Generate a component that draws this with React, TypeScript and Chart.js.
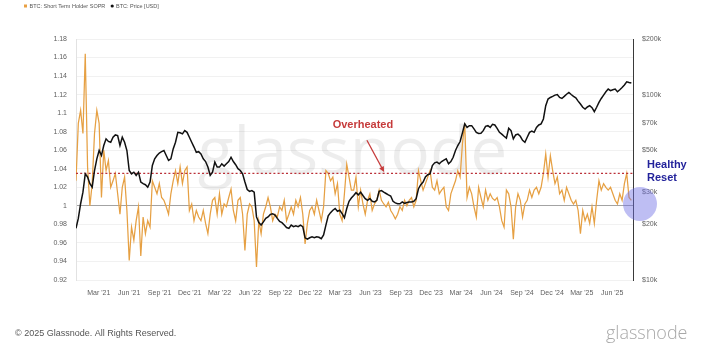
import React, { useEffect, useRef } from "react";
import { Chart, registerables } from "chart.js";

Chart.register(...registerables);

// ---------- data ----------
const START_DATE = "2020-12-22"; // first sample
const END_DATE = "2025-08-03"; // x-axis end
const STEP_DAYS = 7; // weekly samples

// BTC: Short Term Holder SOPR (weekly)
const sopr = [
  1.027, 1.089, 1.103, 1.078, 1.164, 1.042, 1.0, 1.024, 1.078, 1.103,
  1.089, 1.009, 1.06, 1.038, 1.049, 1.02, 1.027, 1.035, 1.013, 0.991,
  1.02, 1.031, 0.995, 0.941, 0.977, 0.963, 0.984, 0.999, 0.946, 0.988,
  0.97, 0.984, 0.977, 1.027, 1.02, 1.013, 1.024, 1.009, 1.006, 0.999,
  0.991, 1.013, 1.027, 1.038, 1.024, 1.042, 1.024, 1.038, 1.042, 0.995,
  1.002, 0.984, 0.995, 0.988, 0.984, 0.995, 0.981, 0.97, 0.991,
  1.006, 1.009, 0.991, 1.013, 0.991, 1.002, 0.999, 1.009, 1.018, 0.995,
  0.984, 1.006, 1.009, 0.991, 0.952, 0.991, 1.002, 0.999, 0.984, 0.934,
  0.984, 0.97, 0.991, 0.999, 1.009, 0.999, 0.984, 0.991, 0.988, 0.999,
  0.995, 1.006, 0.984, 0.991, 0.999, 0.991, 1.006, 0.999, 1.009, 0.991,
  0.959, 0.981, 0.995, 0.999, 0.991, 1.006, 0.995, 0.984, 0.999, 1.038,
  1.035, 1.027, 1.031, 1.013, 1.024, 0.991, 0.984, 1.013, 1.045, 1.031, 1.017,
  1.017, 1.031, 0.999, 1.017, 1.002, 0.991, 1.006, 1.013, 0.995, 1.002,
  1.006, 1.017, 1.006, 1.002, 0.999, 1.004, 0.995, 0.991, 0.986, 0.991,
  0.999, 0.995, 1.006, 1.0, 1.006, 1.009, 0.999, 1.006, 1.038, 1.027,
  1.017, 1.024, 1.031, 1.038, 1.02, 1.017, 1.027, 1.013, 1.017, 1.02,
  0.999, 0.995, 1.013, 1.02, 1.027, 1.038, 1.031, 1.067, 1.089, 1.009,
  1.02, 1.013, 0.999, 0.988, 1.02, 1.009, 0.999, 1.017, 1.006, 1.013,
  1.008, 1.006, 1.009, 0.999, 0.984, 0.977, 1.017, 1.013, 0.999, 0.964,
  0.999, 1.013, 1.006, 0.988, 1.002, 1.006, 1.017, 1.009, 1.017, 1.02,
  1.013, 1.02, 1.035, 1.056, 1.031, 1.054, 1.038, 1.024, 1.031, 1.013,
  1.017, 1.006, 1.02, 1.013, 1.006, 1.002, 1.006, 0.995, 0.97, 0.995,
  0.984, 0.991, 0.981, 0.999, 0.981, 1.006, 1.027, 1.017, 1.024, 1.02,
  1.017, 1.02, 1.013, 1.006, 1.002, 1.013, 1.006, 1.024, 1.035, 1.009, 1.006,
];

// BTC: Price [USD], in thousands (weekly)
const priceK = [
  19.0, 21.5, 25.8, 29.8, 37.4, 36.0, 33.1, 31.7, 39.0, 45.1,
  50.0, 47.0, 53.2, 57.8, 56.0, 55.4, 59.0, 60.7, 60.2, 53.2,
  59.0, 55.4, 50.0, 39.0, 37.4, 38.2, 36.7, 38.2, 33.8, 33.1,
  32.7, 31.7, 33.8, 41.5, 45.1, 47.0, 48.5, 49.3, 50.0, 47.0,
  44.2, 45.1, 51.0, 55.4, 62.7, 62.3, 61.5, 64.0, 62.7, 59.0,
  55.4, 52.2, 48.9, 49.3, 47.9, 45.1, 43.6, 40.7, 36.7,
  38.2, 43.3, 40.7, 40.7, 42.4, 41.2, 42.4, 43.6, 46.0, 43.6,
  41.9, 39.9, 39.0, 37.4, 33.8, 30.8, 30.1, 30.4, 29.8, 21.9,
  20.4, 19.8, 20.6, 21.5, 21.9, 22.6, 22.8, 22.4, 21.5, 20.7,
  20.4, 19.8, 19.2, 19.0, 19.8, 19.4, 19.6, 19.4, 19.8, 19.4,
  16.9, 16.6, 16.9, 17.1, 16.9, 17.1, 17.0, 16.7, 17.5, 19.8,
  22.2, 23.1, 23.8, 24.3, 23.5, 23.8, 22.8, 21.7, 24.3, 26.6, 27.7,
  28.6, 29.6, 28.8, 29.8, 28.6, 27.5, 26.9, 27.5, 26.6, 26.4,
  26.9, 30.1, 30.4, 29.8, 29.3, 28.8, 28.4, 26.6, 26.1, 25.8,
  25.8, 26.4, 25.9, 26.2, 26.4, 26.4, 26.6, 27.5, 31.1, 32.7,
  33.8, 36.0, 37.0, 37.4, 41.5, 42.9, 43.3, 42.4, 43.6, 44.4,
  45.1, 42.4, 43.6, 46.0, 50.0, 53.2, 55.9, 62.3, 69.6, 66.6,
  68.1, 68.1, 65.4, 62.7, 61.8, 62.0, 64.0, 67.5, 68.1, 66.6,
  69.3, 68.7, 65.9, 62.7, 61.3, 59.7, 58.3, 65.9, 64.0, 57.8,
  60.7, 61.3, 59.7, 56.8, 55.4, 59.0, 62.7, 63.7, 62.7, 66.6,
  68.7, 69.6, 74.0, 87.3, 94.8, 96.7, 98.0, 99.6, 100.3, 96.7,
  95.5, 98.0, 100.7, 102.9, 100.3, 98.0, 96.3, 92.4, 89.1, 85.6,
  83.8, 85.9, 87.3, 85.2, 81.0, 85.6, 90.9, 95.5, 99.6, 103.8,
  107.3, 105.2, 106.5, 107.3, 103.8, 106.5, 109.5, 112.9, 117.5, 116.4, 115.6,
];

const overheatedLevel = 1.035;

const soprTicks = [
  0.92, 0.94, 0.96, 0.98, 1, 1.02, 1.04, 1.06, 1.08, 1.1, 1.12, 1.14, 1.16, 1.18,
];
const priceTicksK = [10, 20, 30, 50, 70, 100, 200];

const xTickDates = [
  "2021-03-01", "2021-06-01", "2021-09-01", "2021-12-01",
  "2022-03-01", "2022-06-01", "2022-09-01", "2022-12-01",
  "2023-03-01", "2023-06-01", "2023-09-01", "2023-12-01",
  "2024-03-01", "2024-06-01", "2024-09-01", "2024-12-01",
  "2025-03-01", "2025-06-01",
];
const MONTHS = ["Jan", "Feb", "Mar", "Apr", "May", "Jun", "Jul", "Aug", "Sep", "Oct", "Nov", "Dec"];

// annotation anchors (day index, SOPR value)
const OVERHEATED_TEXT = { day: 868, value: 1.0845 };
const OVERHEATED_ARROW = { fromDay: 880, fromValue: 1.0707, toDay: 932, toValue: 1.0365 };
const RESET_CIRCLE_VALUE = 1.002;

// ---------- helpers ----------
const DAY_MS = 86400000;
const startMs = Date.parse(START_DATE + "T00:00:00Z");
const dayOf = (d: string) => Math.round((Date.parse(d + "T00:00:00Z") - startMs) / DAY_MS);
const xMaxDay = dayOf(END_DATE);
const xTickDays = xTickDates.map(dayOf);
const xTickLabels = xTickDates.map((d) => {
  const [y, m] = d.split("-");
  return `${MONTHS[parseInt(m, 10) - 1]} '${y.slice(2)}`;
});

const FONT = "'Liberation Sans', Arial, Helvetica, sans-serif";
const TICK_COLOR = "#5f5f5f";

const overlayPlugin = {
  id: "overlay",
  beforeDatasetsDraw(chart: any) {
    const { ctx, chartArea } = chart;
    ctx.save();
    ctx.font = `500 66px 'Open Sans', ${FONT}`;
    ctx.fillStyle = "rgba(0,0,0,0.07)";
    ctx.textAlign = "center";
    ctx.textBaseline = "alphabetic";
    ctx.fillText("glassnode", (chartArea.left + chartArea.right) / 2 - 2, 174);
    ctx.restore();
  },
  afterDraw(chart: any) {
    const { ctx, chartArea, scales } = chart;
    const xs = scales.x;
    const ys = scales.y;
    ctx.save();

    // legend
    ctx.font = `5.5px ${FONT}`;
    ctx.textBaseline = "middle";
    ctx.textAlign = "left";
    ctx.fillStyle = "#e9a042";
    ctx.fillRect(24, 4.5, 3, 3);
    ctx.fillStyle = "#555";
    ctx.fillText("BTC: Short Term Holder SOPR", 29.5, 6.2);
    ctx.fillStyle = "#111";
    ctx.beginPath();
    ctx.arc(112.2, 6, 1.6, 0, Math.PI * 2);
    ctx.fill();
    ctx.fillStyle = "#555";
    ctx.fillText("BTC: Price [USD]", 116, 6.2);

    // Overheated label + arrow
    const red = "#c63b3b";
    ctx.fillStyle = red;
    ctx.font = `bold 11px ${FONT}`;
    ctx.textAlign = "center";
    ctx.textBaseline = "alphabetic";
    ctx.fillText(
      "Overheated",
      xs.getPixelForValue(OVERHEATED_TEXT.day),
      ys.getPixelForValue(OVERHEATED_TEXT.value)
    );
    const ax0 = xs.getPixelForValue(OVERHEATED_ARROW.fromDay);
    const ay0 = ys.getPixelForValue(OVERHEATED_ARROW.fromValue);
    const ax1 = xs.getPixelForValue(OVERHEATED_ARROW.toDay);
    const ay1 = ys.getPixelForValue(OVERHEATED_ARROW.toValue);
    const ang = Math.atan2(ay1 - ay0, ax1 - ax0);
    const head = 6;
    ctx.strokeStyle = red;
    ctx.lineWidth = 1.3;
    ctx.beginPath();
    ctx.moveTo(ax0, ay0);
    ctx.lineTo(ax1 - Math.cos(ang) * head * 0.8, ay1 - Math.sin(ang) * head * 0.8);
    ctx.stroke();
    ctx.beginPath();
    ctx.moveTo(ax1, ay1);
    ctx.lineTo(ax1 - head * Math.cos(ang - 0.45), ay1 - head * Math.sin(ang - 0.45));
    ctx.lineTo(ax1 - head * Math.cos(ang + 0.45), ay1 - head * Math.sin(ang + 0.45));
    ctx.closePath();
    ctx.fill();

    // Healthy Reset circle + label
    const cy = ys.getPixelForValue(RESET_CIRCLE_VALUE);
    ctx.fillStyle = "rgba(110,110,228,0.45)";
    ctx.beginPath();
    ctx.arc(chartArea.right + 7, cy, 17, 0, Math.PI * 2);
    ctx.fill();

    ctx.fillStyle = "#23239b";
    ctx.font = `bold 11px ${FONT}`;
    ctx.textAlign = "left";
    ctx.fillText("Healthy", chartArea.right + 14, cy - 36);
    ctx.fillText("Reset", chartArea.right + 14, cy - 23);

    // footer
    ctx.fillStyle = "#555";
    ctx.font = `9px ${FONT}`;
    ctx.textBaseline = "middle";
    ctx.fillText("\u00a9 2025 Glassnode. All Rights Reserved.", 15, 334);
    ctx.fillStyle = "#a8a8a8";
    ctx.font = `300 18px 'Open Sans', ${FONT}`;
    ctx.textBaseline = "alphabetic";
    ctx.fillText("glassnode", 606, 339);

    ctx.restore();
  },
};

export default function App() {
  const canvasRef = useRef<HTMLCanvasElement | null>(null);

  useEffect(() => {
    const canvas = canvasRef.current;
    if (!canvas) return;

    const soprPts = sopr.map((v, i) => ({ x: i * STEP_DAYS, y: v }));
    const pricePts = priceK.map((v, i) => ({ x: i * STEP_DAYS, y: v * 1000 }));
    const ohPts = [
      { x: 0, y: overheatedLevel },
      { x: xMaxDay, y: overheatedLevel },
    ];

    const chart = new Chart(canvas, {
      type: "line",
      data: {
        datasets: [
          {
            label: "BTC: Price [USD]",
            data: pricePts,
            yAxisID: "yR",
            borderColor: "#111111",
            borderWidth: 1.5,
            pointRadius: 0,
            tension: 0,
            order: 0,
          },
          {
            label: "Overheated",
            data: ohPts,
            yAxisID: "y",
            borderColor: "#bb3038",
            borderWidth: 1.3,
            borderDash: [2, 2.2],
            pointRadius: 0,
            order: 1,
          },
          {
            label: "BTC: Short Term Holder SOPR",
            data: soprPts,
            yAxisID: "y",
            borderColor: "#e6a043",
            borderWidth: 1.25,
            pointRadius: 0,
            tension: 0,
            order: 2,
          },
        ],
      },
      options: {
        responsive: false,
        animation: false,
        events: [],
        layout: { padding: { top: 39, left: 0, right: 0, bottom: 0 } },
        plugins: {
          legend: { display: false },
          tooltip: { enabled: false },
        },
        scales: {
          x: {
            type: "linear",
            min: 0,
            max: xMaxDay,
            grid: { display: false, drawTicks: false },
            border: { display: false },
            afterBuildTicks: (scale: any) => {
              scale.ticks = xTickDays.map((v) => ({ value: v }));
            },
            afterFit: (scale: any) => {
              scale.height = 72;
            },
            ticks: {
              autoSkip: false,
              maxRotation: 0,
              padding: 9,
              color: TICK_COLOR,
              font: { family: FONT, size: 7 },
              callback: (_v: any, i: number) => xTickLabels[i],
            },
          },
          y: {
            type: "linear",
            position: "left",
            min: 0.92,
            max: 1.18,
            afterBuildTicks: (scale: any) => {
              scale.ticks = soprTicks.map((v) => ({ value: v }));
            },
            afterFit: (scale: any) => {
              scale.width = 76;
            },
            grid: {
              drawTicks: false,
              color: (c: any) =>
                c.tick && Math.abs(c.tick.value - 1) < 1e-9 ? "#a3a3a3" : "#f1f1f1",
              lineWidth: 1,
            },
            border: { display: true, color: "#e2e2e2" },
            ticks: {
              padding: 9,
              color: TICK_COLOR,
              font: { family: FONT, size: 7 },
              callback: (v: any) => String(parseFloat(Number(v).toFixed(2))),
            },
          },
          yR: {
            type: "logarithmic",
            position: "right",
            min: 10000,
            max: 200000,
            afterBuildTicks: (scale: any) => {
              scale.ticks = priceTicksK.map((v) => ({ value: v * 1000 }));
            },
            afterFit: (scale: any) => {
              scale.width = 87;
            },
            grid: { display: false, drawTicks: false },
            border: { display: true, color: "#3a3a3a", width: 1 },
            ticks: {
              padding: 9,
              color: TICK_COLOR,
              font: { family: FONT, size: 7 },
              callback: (v: any) => `$${Math.round(Number(v) / 1000)}k`,
            },
          },
        },
      },
      plugins: [overlayPlugin],
    } as any);

    return () => chart.destroy();
  }, []);

  return (
    <div
      style={{
        position: "fixed",
        left: 0,
        top: 0,
        width: 720,
        height: 352,
        background: "#ffffff",
      }}
    >
      <canvas ref={canvasRef} width={720} height={352} style={{ width: 720, height: 352, display: "block" }} />
    </div>
  );
}
